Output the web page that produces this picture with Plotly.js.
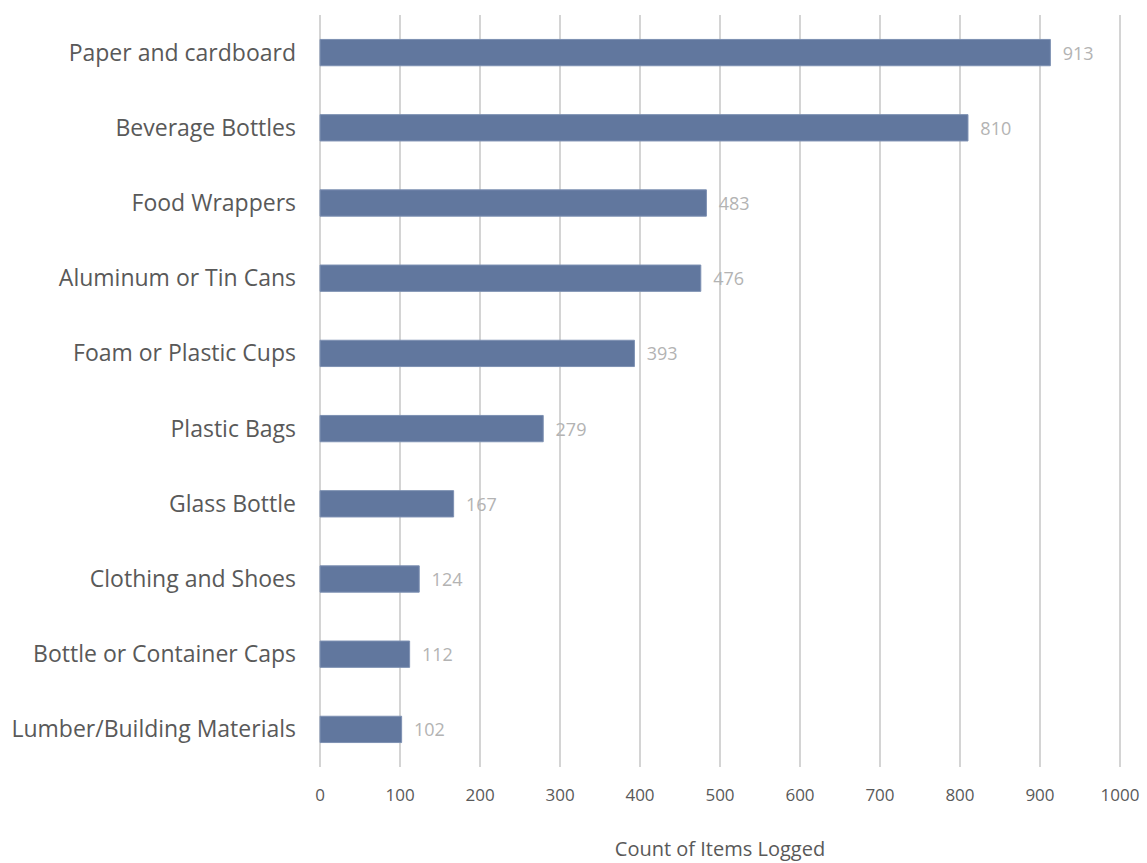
<!DOCTYPE html>
<html><head><meta charset="utf-8">
<script src="https://cdn.plot.ly/plotly-3.0.1.min.js"></script>
<style>body{margin:0;background:#fff}</style>
</head><body><div id="chart" style="width:1147px;height:863px"></div>
<script>
const categories = ["Paper and cardboard","Beverage Bottles","Food Wrappers","Aluminum or Tin Cans","Foam or Plastic Cups","Plastic Bags","Glass Bottle","Clothing and Shoes","Bottle or Container Caps","Lumber/Building Materials"];
const counts = [913, 810, 483, 476, 393, 279, 167, 124, 112, 102];
const tickValues = [0,100,200,300,400,500,600,700,800,900,1000];

const trace = {
  type: 'bar', orientation: 'h',
  x: counts, y: categories,
  width: 0.35,
  marker: {color: '#61779e', line: {color: '#7d90b2', width: 1}},
  text: counts.map(v => '\u00a0\u00a0' + v), textposition: 'outside',
  textfont: {family: 'Open Sans, sans-serif', size: 18, color: '#b3b3b3'},
  cliponaxis: false, hoverinfo: 'none'
};
const layout = {
  width: 1147, height: 863,
  margin: {l: 319, r: 26, t: 15, b: 96},
  paper_bgcolor: '#fff', plot_bgcolor: '#fff',
  showlegend: false,
  font: {family: 'Open Sans, sans-serif', color: '#595959'},
  xaxis: {
    range: [-1.3, 1001.3], tickvals: tickValues, ticktext: tickValues.map(String),
    showgrid: true, gridcolor: '#d4d4d4', gridwidth: 2,
    zeroline: false, showline: false, ticks: '',
    tickfont: {size: 17, color: '#595959'}, ticklabelstandoff: 16,
    title: {text: 'Count of Items Logged', font: {size: 20, color: '#595959'}, standoff: 36}
  },
  yaxis: {
    autorange: 'reversed', type: 'category',
    showgrid: false, zeroline: false, showline: false, ticks: '',
    tickfont: {size: 23, color: '#595959'}, ticklabelstandoff: 22
  }
};
Plotly.newPlot('chart', [trace], layout, {displayModeBar: false, staticPlot: true});
</script></body></html>
